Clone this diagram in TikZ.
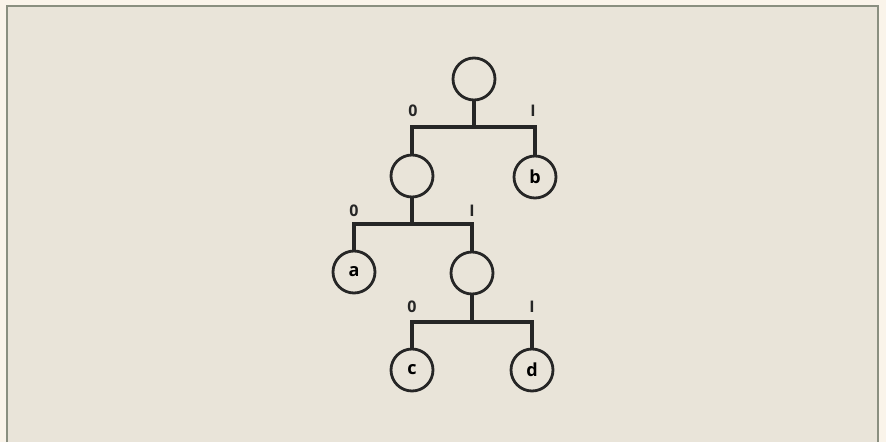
\documentclass[tikz,border=0pt]{standalone}
\usepackage{fontspec}
\setmainfont{Open Sans}
\begin{document}
\begin{tikzpicture}[x=1pt,y=-1pt,
  nd/.style={circle,draw=black!85,line width=2.8pt,minimum size=42pt,inner sep=0pt,fill=bgc,font=\bfseries\fontsize{18}{18}\selectfont},
  br/.style={draw=black!85,line width=3.2pt},
  lbl/.style={font=\bfseries\fontsize{16}{16}\selectfont,text=black!85,inner sep=0pt}]
\definecolor{bgc}{HTML}{E9E4D9}
\definecolor{outc}{HTML}{FAF4EA}
\definecolor{framec}{HTML}{8A8F80}
\useasboundingbox (0,0) rectangle (886,442);
\fill[outc] (0,0) rectangle (886,442);
\fill[bgc] (7,6) rectangle (878,442);
\draw[framec,line width=1.5pt] (7,442) -- (7,6) -- (878,6) -- (878,442);
% nodes
\node[nd] (r) at (474,79) {};
\node[nd] (n1) at (412,176) {};
\node[nd] (b) at (535,177) {b};
\node[nd] (a) at (354,272) {a};
\node[nd] (n2) at (472,273) {};
\node[nd] (c) at (412,370) {c};
\node[nd] (d) at (532,370) {d};
% branch coordinates
\coordinate (j1) at (474,127);
\coordinate (j2) at (412,224);
\coordinate (j3) at (472,322);
\draw[br] (r.south) -- (j1);
\draw[br] (n1.north) |- (j1) -| (b.north);
\draw[br] (n1.south) -- (j2);
\draw[br] (a.north) |- (j2) -| (n2.north);
\draw[br] (n2.south) -- (j3);
\draw[br] (c.north) |- (j3) -| (d.north);
% labels
\node[lbl] (l0a) at (413,111) {0};
\node[lbl] (l1a) at (533,111) {I};
\node[lbl] (l0b) at (354,211) {0};
\node[lbl] (l1b) at (472,211) {I};
\node[lbl] (l0c) at (412,307) {0};
\node[lbl] (l1c) at (532,307) {I};
\end{tikzpicture}
\end{document}
